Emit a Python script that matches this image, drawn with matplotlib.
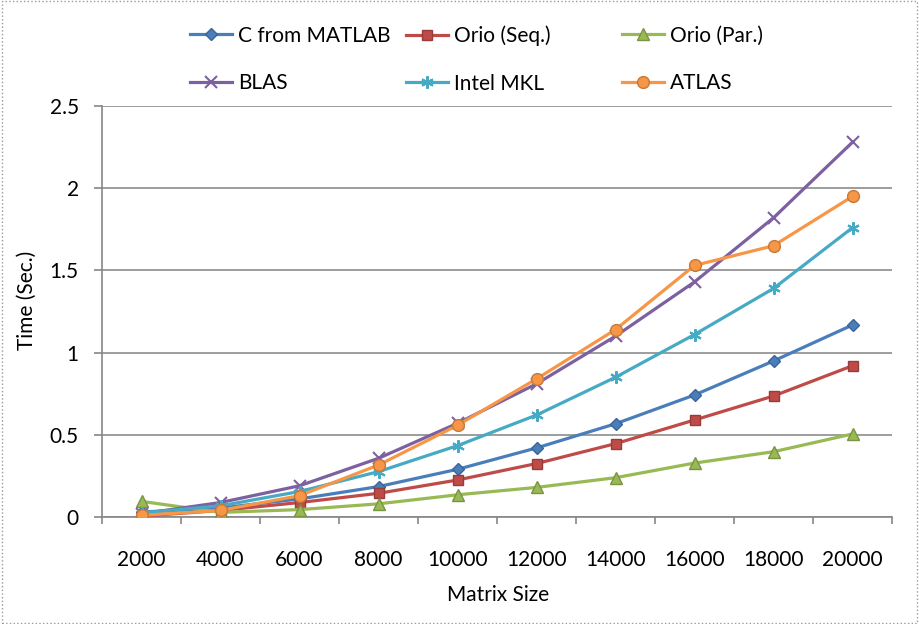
import numpy as np
import matplotlib
matplotlib.use('Agg')
import matplotlib.pyplot as plt
from matplotlib.patches import Rectangle

plt.rcParams['font.family'] = ['Lato', 'DejaVu Sans']

sizes = ['2000', '4000', '6000', '8000', '10000', '12000', '14000', '16000', '18000', '20000']

c_matlab = [0.03, 0.055, 0.11, 0.185, 0.29, 0.42, 0.567, 0.742, 0.949, 1.168]
orio_seq = [0.005, 0.04, 0.088, 0.144, 0.225, 0.325, 0.446, 0.59, 0.736, 0.92]
orio_par = [0.095, 0.028, 0.045, 0.08, 0.135, 0.18, 0.239, 0.328, 0.397, 0.505]
blas = [0.02, 0.088, 0.19, 0.357, 0.57, 0.81, 1.10, 1.43, 1.82, 2.28]
intel_mkl = [0.025, 0.068, 0.155, 0.276, 0.434, 0.62, 0.85, 1.11, 1.39, 1.76]
atlas = [0.01, 0.04, 0.13, 0.316, 0.558, 0.84, 1.14, 1.53, 1.65, 1.95]

series = [
    ('C from MATLAB', c_matlab, '#4A7EBB', 'D', 6),
    ('Orio (Seq.)', orio_seq, '#BE4B48', 's', 7),
    ('Orio (Par.)', orio_par, '#98B954', '^', 8),
    ('BLAS', blas, '#7D60A0', 'x', 8),
    ('Intel MKL', intel_mkl, '#46AAC5', (6, 2, 0), 9),
    ('ATLAS', atlas, '#F79646', 'o', 8.5),
]

fig = plt.figure(figsize=(9.19, 6.24), dpi=100)
ax = fig.add_axes([102 / 919, 1 - 517 / 624, 790 / 919, 411 / 624])

x = np.arange(len(sizes))
handles = []
for name, vals, col, mk, ms in series:
    thin = mk in ('x', (6, 2, 0))
    edge = col if thin else matplotlib.colors.to_hex(np.array(matplotlib.colors.to_rgb(col)) * 0.8)
    h, = ax.plot(x, vals, color=col, lw=2.3, marker=mk, markersize=ms,
                 markeredgecolor=edge, markeredgewidth=1.5 if thin else 1.0,
                 label=name, zorder=3)
    handles.append(h)

ax.set_xlim(-0.5, len(sizes) - 0.5)
ax.set_ylim(0, 2.5)
ax.set_yticks([0, 0.5, 1, 1.5, 2, 2.5])
ax.set_yticklabels(['0', '0.5', '1', '1.5', '2', '2.5'])
ax.set_xticks(x)
ax.set_xticklabels(sizes)
ax.set_xticks(np.arange(-0.5, len(sizes)), minor=True)
ax.tick_params(axis='x', which='major', length=0, pad=24, labelsize=15)
ax.tick_params(axis='x', which='minor', length=5, color='#868686', width=1.2, direction='out')
ax.tick_params(axis='y', length=5.8, color='#868686', width=1.2, direction='out',
               labelsize=15, pad=11)
ax.yaxis.grid(True, color='#8c8c8c', lw=1.2)
ax.set_axisbelow(True)
for s in ['top', 'right']:
    ax.spines[s].set_visible(False)
for s in ['left', 'bottom']:
    ax.spines[s].set_color('#868686')
    ax.spines[s].set_linewidth(1.2)

fig.text(498 / 919, 1 - 595 / 624, 'Matrix Size', fontsize=15, ha='center', va='center')
fig.text(27 / 919, 1 - 300 / 624, 'Time (Sec.)', fontsize=15, ha='center', va='center',
         rotation=90)

# legend: three equal-width columns, two rows each
col_x = [190, 406, 622]
for c in range(3):
    hs = [handles[c], handles[c + 3]]
    leg = fig.legend(hs, [h.get_label() for h in hs], loc='center left',
                     bbox_to_anchor=(col_x[c] / 919, 1 - 59.5 / 624),
                     frameon=False, fontsize=15, handlelength=2.0, handletextpad=0.3,
                     labelspacing=1.33, borderpad=0, borderaxespad=0)

fig.patches.append(Rectangle((0.002, 0.002), 0.996, 0.996, transform=fig.transFigure,
                             fill=False, edgecolor='#9a9a9a', lw=1, linestyle=':'))

fig.savefig('out.png', dpi=100)
